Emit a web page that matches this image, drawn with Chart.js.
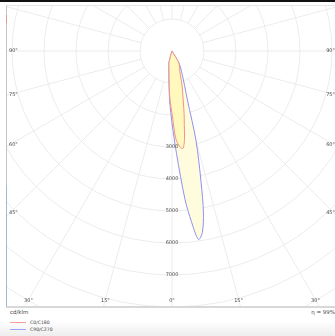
<!DOCTYPE html>
<html>
<head>
<meta charset="utf-8">
<script src="https://cdn.jsdelivr.net/npm/chart.js@4.4.0/dist/chart.umd.min.js"></script>
<style>
  html, body { margin: 0; padding: 0; background: #fff; }
  body { width: 335px; height: 336px; position: relative; overflow: hidden; font-family: "DejaVu Sans", sans-serif; color: #444; }
  #topbar { position: absolute; left: 0; top: 0; width: 335px; height: 2px; background: #111; }
  #frame { position: absolute; left: 6px; top: 5px; width: 330px; height: 300px; border-left: 1px solid #c4c4c4; border-top: 1px solid #e6e6e6; border-bottom: 2px solid #d8d8d8; }
  #edgeRed { position: absolute; left: 6px; top: 15px; width: 1px; height: 8px; background: #e49a9a; }
  #edgeBlue { position: absolute; left: 6px; top: 185px; width: 1px; height: 121px; background: #a4b6d6; }
  #plot { position: absolute; left: 7px; top: 6px; width: 328px; height: 300px; }
  #shade { position: absolute; left: 0; top: 321px; width: 335px; height: 15px; background: linear-gradient(to bottom, rgba(0,0,0,0), rgba(0,0,0,0.07)); }
  .txt { position: absolute; font-size: 5.5px; line-height: 6px; white-space: nowrap; }
  #unit { left: 10px; top: 309px; }
  #eta { right: 0px; top: 309px; }
  .leg { position: absolute; left: 10px; font-size: 4.6px; line-height: 5px; white-space: nowrap; }
  .leg i { display: inline-block; width: 16px; height: 1px; vertical-align: middle; margin-right: 4px; }
</style>
</head>
<body>
<div id="topbar"></div>
<div id="frame"></div>
<div id="edgeRed"></div>
<div id="edgeBlue"></div>
<div id="shade"></div>
<div id="plot"><canvas id="ldc"></canvas></div>
<div id="unit" class="txt">cd/klm</div>
<div id="eta" class="txt">η = 99%</div>
<div class="leg" style="top:320px"><i style="background:#f5a093"></i>C0/C180</div>
<div class="leg" style="top:327px"><i style="background:#a0a4f5"></i>C90/C270</div>
<script>
// gamma angles (deg, 0 = straight down, negative = left half)
const gammaDeg = [-20, -15, -10, -5, -2.5, 0, 2.5, 5, 6.5, 8, 9.5, 11, 12.5, 15, 17.5, 20, 25, 30, 35];
// luminous intensity, cd/klm
const c0c180 = [0, 360, 540, 1000, 1500, 1950, 2750, 3030, 3060, 2800, 2330, 1980, 1630, 1265, 980, 730, 560, 420, 0];
const c90c270 = [0, 360, 560, 1070, 1600, 2250, 3200, 4650, 5370, 5950, 5750, 5150, 4200, 2900, 1600, 1150, 700, 450, 0];

const ringStep = 1000;
const ringLabels = [3000, 4000, 5000, 6000, 7000];
const angleTicks = [0, 15, 30, 45, 60, 75, 90];

const GRID = '#ececec';
const LABEL = '#4a4a4a';

function toXY(values) {
  return gammaDeg.map((g, i) => {
    const t = g * Math.PI / 180;
    return { x: values[i] * Math.sin(t), y: values[i] * Math.cos(t) };
  });
}

function clipTo(ctx, a) {
  ctx.beginPath();
  ctx.rect(a.left, a.top, a.right - a.left, a.bottom - a.top);
  ctx.clip();
}

// fills each closed curve using the line element's own path
const shapeFill = {
  id: 'shapeFill',
  beforeDatasetDraw(chart, args) {
    const ds = chart.data.datasets[args.index];
    const line = args.meta.dataset;
    if (!line || !ds.areaColor) return;
    const ctx = chart.ctx;
    ctx.save();
    clipTo(ctx, chart.chartArea);
    ctx.beginPath();
    line.path(ctx);
    ctx.closePath();
    ctx.fillStyle = ds.areaColor;
    ctx.fill();
    ctx.restore();
  }
};

const polarGrid = {
  id: 'polarGrid',
  beforeDatasetsDraw(chart) {
    const { ctx, chartArea: a, scales: { x, y } } = chart;
    const cx = x.getPixelForValue(0);
    const cy = y.getPixelForValue(0);
    const unit = Math.abs(x.getPixelForValue(ringStep) - cx);
    ctx.save();
    clipTo(ctx, a);
    ctx.strokeStyle = GRID;
    ctx.lineWidth = 1;
    for (let k = 1; k <= 12; k++) {
      ctx.beginPath();
      ctx.arc(cx, cy, k * unit, 0, Math.PI * 2);
      ctx.stroke();
    }
    for (let deg = 0; deg < 360; deg += 15) {
      const t = deg * Math.PI / 180;
      ctx.beginPath();
      ctx.moveTo(cx + unit * Math.sin(t), cy + unit * Math.cos(t));
      ctx.lineTo(cx + 20 * unit * Math.sin(t), cy + 20 * unit * Math.cos(t));
      ctx.stroke();
    }
    ctx.restore();
  },
  afterDatasetsDraw(chart) {
    const { ctx, chartArea: a, scales: { x, y } } = chart;
    const cx = x.getPixelForValue(0);
    const cy = y.getPixelForValue(0);
    const leftEdge = a.left + 3, rightEdge = a.right - 1, bottomEdge = a.bottom - 6.5;
    ctx.save();
    ctx.fillStyle = LABEL;
    ctx.font = '5px "DejaVu Sans"';
    ctx.textAlign = 'center';
    ctx.textBaseline = 'middle';
    ringLabels.forEach(v => ctx.fillText(String(v), cx, y.getPixelForValue(v)));
    angleTicks.forEach(deg => {
      const sides = deg === 0 ? [1] : [-1, 1];
      sides.forEach(s => {
        const t = deg * Math.PI / 180;
        const sx = Math.sin(t), cyc = Math.cos(t);
        const dSide = sx > 1e-6 ? (s < 0 ? cx - leftEdge : rightEdge - cx) / sx : Infinity;
        const dBottom = cyc > 1e-6 ? (bottomEdge - cy) / cyc : Infinity;
        const label = deg + '°';
        if (dSide < dBottom) {
          const py = cy + dSide * cyc;
          if (s < 0) { ctx.textAlign = 'left'; ctx.fillText(label, a.left + 2, py); }
          else { ctx.textAlign = 'right'; ctx.fillText(label, a.right, py); }
        } else {
          ctx.textAlign = 'center';
          ctx.fillText(label, cx + s * dBottom * sx, a.bottom - 5);
        }
      });
    });
    ctx.restore();
  }
};

new Chart(document.getElementById('ldc'), {
  type: 'scatter',
  data: {
    datasets: [
      {
        label: 'C0/C180',
        data: toXY(c0c180),
        showLine: true,
        borderColor: '#f29288',
        areaColor: 'rgb(255, 249, 190)',
        borderWidth: 1,
        pointRadius: 0,
        tension: 0.3,
        fill: false,
      },
      {
        label: 'C90/C270',
        data: toXY(c90c270),
        showLine: true,
        borderColor: '#8e90f2',
        areaColor: 'rgb(255, 252, 222)',
        borderWidth: 1,
        pointRadius: 0,
        tension: 0.3,
        fill: false,
      },
    ],
  },
  options: {
    responsive: true,
    maintainAspectRatio: false,
    animation: false,
    layout: { padding: 0, autoPadding: false },
    scales: {
      x: { display: false, min: -5156.25, max: 5093.75 },
      y: { display: false, min: -1406.25, max: 7968.75, reverse: true },
    },
    plugins: {
      legend: { display: false },
      tooltip: { enabled: false },
    },
  },
  plugins: [polarGrid, shapeFill],
});
</script>
</body>
</html>
